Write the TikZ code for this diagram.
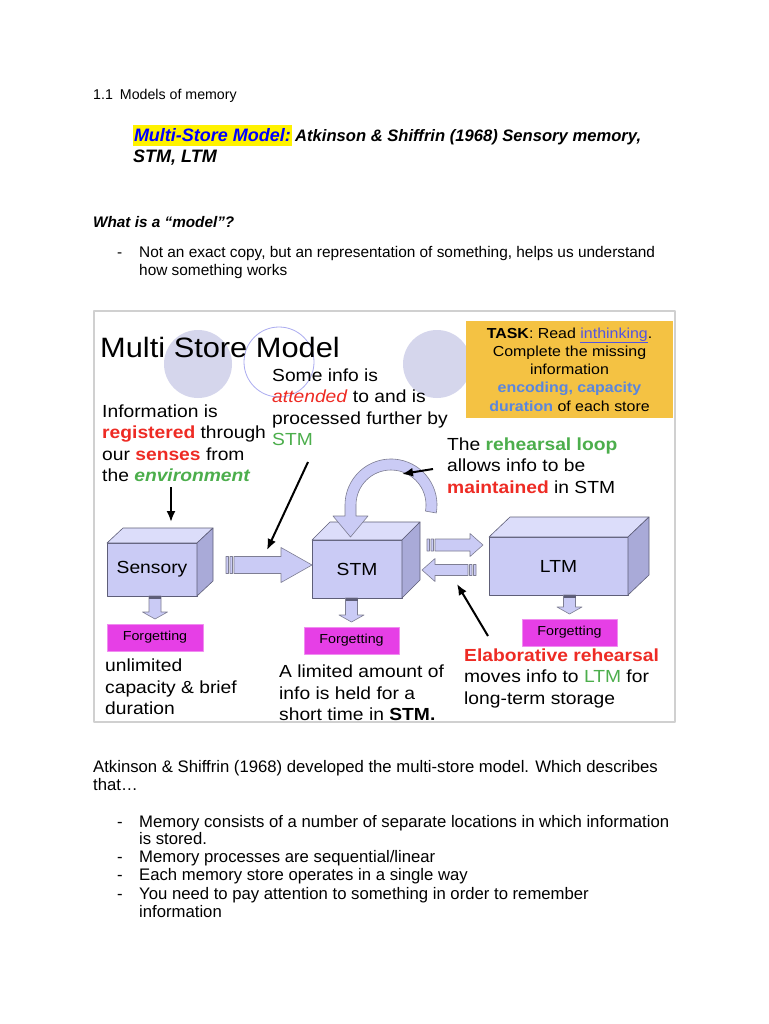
\documentclass[tikz,border=0pt]{standalone}
\usepackage{fontspec}
\setmainfont{Liberation Sans}
\newfontfamily\diagfont[FakeStretch=1.1]{Liberation Sans}
\usetikzlibrary{arrows.meta,calc,positioning}
\definecolor{msmLav}{HTML}{CACBF5}
\definecolor{msmLavTop}{HTML}{DCDDFA}
\definecolor{msmLavSide}{HTML}{A9AAD8}
\definecolor{msmEdge}{HTML}{5E5E78}
\definecolor{msmDot}{HTML}{D5D6EC}
\definecolor{msmMagenta}{HTML}{E63FE6}
\definecolor{msmTask}{HTML}{F4C243}
\definecolor{msmRed}{HTML}{EE2B24}
\definecolor{msmGreen}{HTML}{4CAE4C}
\definecolor{msmBlue}{HTML}{5A86DE}
\definecolor{msmLink}{HTML}{5454E0}
\definecolor{msmFrame}{HTML}{D0D0D0}
\newcommand\bodyfont{\fontsize{14.5}{17}\selectfont}
\newcommand\titlefont{\fontsize{18}{21}\selectfont}
\newcommand\listfont{\fontsize{16.7}{18}\selectfont}
\newcommand\diagtext{\diagfont\fontsize{17.5}{21.5}\selectfont}
\newcommand\tasktext{\diagfont\fontsize{14.5}{18.2}\selectfont}
\newcommand\forgetfont{\diagfont\fontsize{13}{15}\selectfont}
\newcommand\redbf[1]{\textcolor{msmRed}{\textbf{#1}}}
\newcommand\greenbf[1]{\textcolor{msmGreen}{\textbf{#1}}}
% 3d faces on top of a front box node
\newcommand{\cubefaces}[3]{%
  \draw[topface] (#1.north west) -- ++(#2,-#3) -- ($(#1.north east)+(#2,-#3)$) -- (#1.north east) -- cycle;
  \draw[sideface] (#1.north east) -- ++(#2,-#3) -- ($(#1.south east)+(#2,-#3)$) -- (#1.south east) -- cycle;}
% striped block arrow, tail -> tip (horizontal)
\newcommand{\fatarrow}[5]{%
  \draw[fatarrow] let \p1=(#1), \p2=(#2), \n1={ifthenelse(\x2>\x1,1,-1)} in
    ({\x1+(\n1)*8pt},{\y1+#3pt}) -- ({\x2-(\n1)*#5pt},{\y1+#3pt}) -- ({\x2-(\n1)*#5pt},{\y1+#4pt})
    -- (\x2,\y1) -- ({\x2-(\n1)*#5pt},{\y1-#4pt}) -- ({\x2-(\n1)*#5pt},{\y1-#3pt}) -- ({\x1+(\n1)*8pt},{\y1-#3pt}) -- cycle
    (\x1,{\y1+#3pt}) rectangle ({\x1+(\n1)*2.5pt},{\y1-#3pt})
    ({\x1+(\n1)*4pt},{\y1+#3pt}) rectangle ({\x1+(\n1)*6.5pt},{\y1-#3pt});}
% block arrow pointing down, top -> tip
\newcommand{\droparrow}[2]{%
  \draw[fatarrow] let \p1=(#1), \p2=(#2) in
    ({\x1-6pt},\y1) -- ({\x1-6pt},{\y2+7pt}) -- ({\x1-12.5pt},{\y2+7pt}) -- (\x1,\y2)
    -- ({\x1+12.5pt},{\y2+7pt}) -- ({\x1+6pt},{\y2+7pt}) -- ({\x1+6pt},\y1) -- cycle;
  \fill[msmEdge] let \p1=(#1) in ({\x1-6pt},\y1) rectangle ({\x1+6pt},{\y1-3pt});}

\begin{document}
\begin{tikzpicture}[x=1pt,y=-1pt,>={Latex[length=11pt,width=9pt]},line join=round]
\useasboundingbox (0,0) rectangle (768,1024);
\fill[white] (0,0) rectangle (768,1024);
\tikzset{bodytext/.style={anchor=base west,inner sep=0,font=\bodyfont},
 diagnote/.style={anchor=base west,inner sep=0,align=left,font=\diagtext},
 front/.style={draw=msmEdge,fill=msmLav,line width=0.6,outer sep=0,font=\diagtext},
 topface/.style={draw=msmEdge,fill=msmLavTop,line width=0.6},
 sideface/.style={draw=msmEdge,fill=msmLavSide,line width=0.6},
 fatarrow/.style={draw=msmEdge!80,fill=msmLav,line width=0.6},
 forget/.style={fill=msmMagenta,draw=msmMagenta!60!white,minimum width=95,minimum height=27,inner sep=0,outer sep=0,font=\forgetfont},
 pointer/.style={draw=black,line width=2,->}}
% page heading (multi-line nodes sit on the baseline of their last line)
\node[bodytext,font=\fontsize{14.2}{17}\selectfont] (secHead) at (93,100) {1.1\hspace{7pt}Models of memory};
\node[anchor=base west,inner xsep=1,inner ysep=3.5,outer sep=0,fill=yellow,text=blue,font=\titlefont\bfseries\itshape] (msmLabel) at (133,142) {Multi-Store Model:};
\node[base right=3 of msmLabel,inner sep=0,font=\fontsize{16.6}{21}\selectfont\bfseries\itshape] (msmCite) {Atkinson \& Shiffrin (1968) Sensory memory,};
\node[anchor=base west,inner sep=0,font=\titlefont\bfseries\itshape] (msmStores) at (133,163) {STM, LTM};
\node[bodytext,font=\fontsize{15.3}{18}\selectfont\bfseries\itshape] (whatQ) at (93,227) {What is a “model”?};
\node[bodytext,font=\fontsize{15.4}{17.5}\selectfont] (dashA) at (117,258) {-};
\node[bodytext,align=left,font=\fontsize{15.4}{17.5}\selectfont] (modelDef) at (139,275.5) {Not an exact copy, but an representation of something, helps us understand\\how something works};
% the diagram
\draw[msmFrame,line width=1.5,fill=white] (94,311) rectangle (675,722);
\fill[msmDot] (198,364) circle[radius=34];
\draw[msmDot!80!blue,line width=0.8] (279,362) circle[radius=35];
\fill[msmDot] (437,364) circle[radius=34];
\node[anchor=base west,inner sep=0,font=\diagfont\fontsize{28}{32}\selectfont] (diagTitle) at (100,357) {Multi Store Model};
\node[fill=msmTask,minimum width=207,minimum height=97,inner sep=0,align=center,font=\tasktext] (task) at (569.5,369.5)
  {\textbf{TASK}: Read \textcolor{msmLink}{\underline{inthinking}}.\\Complete the missing\\information\\\textcolor{msmBlue}{\textbf{encoding, capacity}}\\\textcolor{msmBlue}{\textbf{duration}} of each store};
\node[diagnote] (attendNote) at (272,445.5) {Some info is\\\textcolor{msmRed}{\textit{attended}} to and is\\processed further by\\\textcolor{msmGreen}{STM}};
\node[diagnote] (senseNote) at (102,481.5) {Information is\\\redbf{registered} through\\our \redbf{senses} from\\the \greenbf{\textit{environment}}};
\node[diagnote] (loopNote) at (447,493) {The \greenbf{rehearsal loop}\\allows info to be\\\redbf{maintained} in STM};
% stores
\node[front,minimum width=90,minimum height=53] (sens) at (152,569.5) {Sensory};
\node[front,minimum width=90,minimum height=58] (stm) at (357,569) {STM};
\node[front,minimum width=139,minimum height=58] (ltm) at (558.5,566) {LTM};
\cubefaces{sens}{16}{15}
\cubefaces{stm}{18}{18}
\cubefaces{ltm}{21}{20}
% rehearsal loop
\coordinate (loopc) at ($(stm.north)+(34,-35)$);
\draw[fatarrow] ($(loopc)+(10:46)$) arc[start angle=10,end angle=-180,radius=46] -- ++(0,11) -- ++(-12,0)
  -- ($(loopc)+(-40.5,32)$) -- ($(loopc)+(-23,11)$) -- ($(loopc)+(-35,11)$) -- ($(loopc)+(-35,0)$)
  arc[start angle=-180,end angle=10,radius=35] -- cycle;
% transfers
\coordinate (s2sTail) at (226,565);
\fatarrow{s2sTail}{stm.west |- s2sTail}{8.5}{17.5}{31}
\coordinate (s2lTail) at (427,545);
\coordinate (s2lTip) at (483,545);
\fatarrow{s2lTail}{s2lTip}{6}{11.5}{13}
\coordinate (l2sTail) at (476,570);
\coordinate (l2sTip) at (422,570);
\fatarrow{l2sTail}{l2sTip}{5.5}{11.5}{13}
% forgetting
\node[forget,minimum width=96] (fgSens) at (155,637.5) {Forgetting};
\node[forget] (fgStm) at (351.5,640.5) {Forgetting};
\node[forget] (fgLtm) at (569.5,632.5) {Forgetting};
\droparrow{fgSens.north |- sens.south}{$(fgSens.north)+(0,-5)$}
\droparrow{fgStm.north |- stm.south}{$(fgStm.north)+(0,-5)$}
\droparrow{fgLtm.north |- ltm.south}{$(fgLtm.north)+(0,-5)$}
% pointers
\coordinate (envFoot) at (171,487);
\coordinate (sensTop) at (171,522);
\draw[pointer] (envFoot) -- (sensTop);
\coordinate (attFoot) at (308,462);
\coordinate (arrowHit) at (267,550);
\draw[pointer] (attFoot) -- (arrowHit);
\coordinate (loopFoot) at (433,469);
\coordinate (loopHit) at (402,474);
\draw[pointer] (loopFoot) -- (loopHit);
\coordinate (elabFoot) at (488,636);
\coordinate (elabHit) at (457,584);
\draw[pointer] (elabFoot) -- (elabHit);
\node[diagnote] (sensNote) at (105,714.5) {unlimited\\capacity \& brief\\duration};
\node[diagnote] (stmNote) at (279,720.5) {A limited amount of\\info is held for a\\short time in \textbf{STM.}};
\node[diagnote] (elabNote) at (464,704) {\redbf{Elaborative rehearsal}\\moves info to \textcolor{msmGreen}{LTM} for\\long-term storage};
% summary
\node[bodytext,align=left,font=\listfont] (summary) at (93,790) {Atkinson \& Shiffrin (1968) developed the multi-store model. Which describes\\that…};
\foreach \y/\n in {827/1,862/2,880/3,899/4} \node[bodytext,font=\listfont] (dash\n) at (117,\y) {-};
\node[bodytext,align=left,font=\fontsize{16.7}{17.5}\selectfont] (pointA) at (139,844.5) {Memory consists of a number of separate locations in which information\\is stored.};
\node[bodytext,font=\listfont] (pointB) at (139,862) {Memory processes are sequential/linear};
\node[bodytext,font=\listfont] (pointC) at (139,880) {Each memory store operates in a single way};
\node[bodytext,align=left,font=\listfont] (pointD) at (139,917) {You need to pay attention to something in order to remember\\information};
\end{tikzpicture}
\end{document}
